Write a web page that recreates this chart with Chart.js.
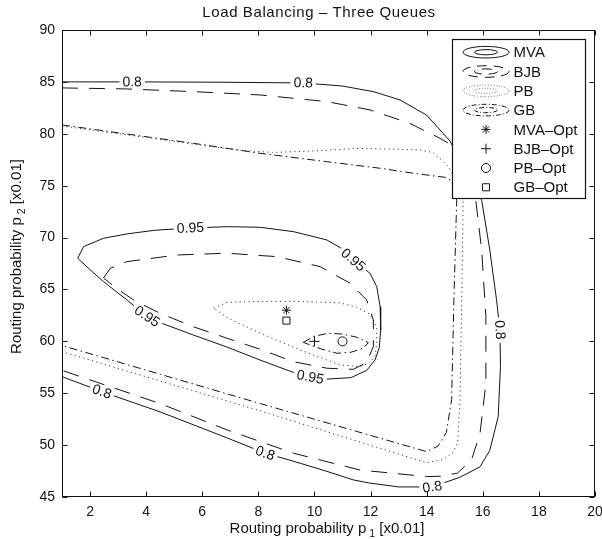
<!DOCTYPE html>
<html>
<head>
<meta charset="utf-8">
<script src="https://cdn.jsdelivr.net/npm/chart.js@4/dist/chart.umd.min.js"></script>
<style>
  html, body { margin: 0; padding: 0; background: #fff; }
  #wrap { width: 602px; height: 539px; }
</style>
</head>
<body>
<div id="wrap"><canvas id="c" width="602" height="539"></canvas></div>
<script>
// ---- text ----
const titleText = 'Load Balancing \u2013 Three Queues';
const xTitle = ['Routing probability p', '1', ' [x0.01]'];
const yTitle = ['Routing probability p', '2', ' [x0.01]'];
const xTickValues = [2, 4, 6, 8, 10, 12, 14, 16, 18, 20];
const yTickValues = [45, 50, 55, 60, 65, 70, 75, 80, 85, 90];
const levels = [0.8, 0.95];
const methods = ['MVA', 'BJB', 'PB', 'GB'];
const optNames = ['MVA\u2013Opt', 'BJB\u2013Opt', 'PB\u2013Opt', 'GB\u2013Opt'];

// ---- contour lines, [p1, p2] pairs ----
const mva80 = [[1,85.0],[3.5,85.0],[6.5,84.97],[9.6,84.9],[11.0,84.6],[12.1,84.06],[13.05,83.26],[14.0,81.8],[14.83,79.3],[15.4,76.4],[15.96,73.6],[16.25,68.8],[16.49,64.0],[16.61,61.1],[16.63,57.6],[16.55,52.75],[16.25,49.5],[15.9,47.9],[15.18,46.9],[14.2,45.97],[13.0,45.97],[11.93,46.36],[11.38,46.65],[10.41,47.5],[9.06,48.6],[8.24,49.22],[6.88,50.7],[4.5,53.2],[2.42,55.15],[1,56.6]];
const mva95 = [[1.56,68.0],[1.77,69.13],[2.48,69.93],[3.31,70.35],[4.3,70.7],[5.58,70.92],[6.9,71.05],[8.06,70.99],[9.25,70.57],[10.44,69.77],[11.0,68.9],[11.38,67.84],[11.98,66.56],[12.22,65.27],[12.34,63.34],[12.36,61.1],[12.31,59.4],[12.16,58.2],[11.86,57.2],[11.3,56.5],[10.44,56.36],[9.85,56.55],[9.25,57.0],[8.06,58.2],[6.88,59.45],[5.69,60.6],[4.6,61.7],[4.03,62.4],[3.31,64.0],[2.48,65.75],[2.0,66.9],[1.56,68.0]];
const bjb80 = [[1,84.42],[3.31,84.32],[5.69,84.06],[8.06,83.74],[10.44,83.1],[11.98,82.3],[13.4,81.0],[14.47,79.57],[14.77,79.1],[15.3,76.4],[15.75,73.6],[15.96,68.8],[16.11,62.4],[16.11,55.96],[15.9,51.1],[15.6,48.6],[15.1,47.3],[14.5,47.0],[13.99,46.97],[11.62,47.6],[9.25,49.22],[6.89,51.46],[4.5,54.0],[1,57.2]];
const bjb95 = [[2.48,66.1],[2.72,67.04],[3.31,67.68],[5.1,68.32],[6.88,68.49],[8.66,68.16],[10.2,67.2],[11.27,65.6],[11.86,63.99],[12.1,62.06],[12.1,59.5],[11.86,57.95],[11.38,57.3],[10.44,57.41],[9.25,58.04],[8.06,59.24],[6.88,60.3],[5.69,61.4],[4.5,62.7],[3.6,63.9],[3.0,65.0],[2.48,66.1]];
const pb80 = [[1,80.75],[3.3,79.9],[5.7,79.0],[7.2,78.45],[8.5,78.2],[10.0,78.35],[11.6,78.6],[12.33,78.55],[13.76,78.45],[14.23,78.18],[14.53,77.48],[14.77,76.83],[15.1,75.3],[15.3,73.6],[15.25,64.0],[15.19,54.4],[15.1,50.2],[14.94,49.3],[14.59,48.6],[13.99,48.3],[8.07,53.3],[1,59.0]];
const pb95 = [[6.41,63.19],[6.88,63.75],[8.06,63.85],[9.5,63.85],[10.91,63.7],[11.5,63.3],[11.98,62.6],[12.22,61.42],[12.22,59.81],[12.16,58.6],[11.95,57.9],[11.62,57.56],[10.91,57.73],[9.49,59.17],[8.07,60.78],[6.88,62.3],[6.41,63.19]];
const gb80 = [[1,80.85],[5.69,79.08],[8.06,78.12],[10.44,77.31],[12.33,76.68],[13.52,76.2],[14.65,75.81],[14.89,75.5],[15.07,73.6],[14.97,64.0],[14.89,54.4],[14.7,51.2],[14.4,49.9],[13.99,49.38],[8.07,54.0],[1,59.6]];
const gb95 = [[9.6,59.9],[10.0,60.5],[10.5,60.78],[11.0,60.7],[11.5,60.4],[11.92,59.88],[11.74,59.33],[11.3,58.95],[10.8,58.85],[10.2,59.3],[9.6,59.9]];

// ---- optimum points ----
const mvaOpt = [[9, 63]];
const bjbOpt = [[10, 60]];
const pbOpt = [[11, 60]];
const gbOpt = [[9, 62]];

// ---- inline level labels (points on the MVA contours) ----
const mvaLabelAt80 = [[3.5,85.0],[9.6,84.9],[16.61,61.1],[14.2,45.97],[8.24,49.22],[2.42,55.15]];
const mvaLabelAt95 = [[5.58,70.92],[11.38,67.84],[9.85,56.55],[4.03,62.4]];

// ---- styling ----
const FONT = '"Liberation Sans", Arial, sans-serif';
const INK = '#141414';
const dashes = { MVA: [], BJB: [16, 11], PB: [1.2, 3.3], GB: [8, 3.5, 1.5, 3.5] };
const lineColor = { MVA: INK, BJB: INK, PB: '#3a3a3a', GB: INK };

const toXY = pts => pts.map(p => ({ x: p[0], y: p[1] }));

function contourSet(method, level, pts) {
  return {
    label: method, kind: 'contour', method, level,
    data: toXY(pts), showLine: true, fill: false, tension: 0,
    borderColor: lineColor[method], borderWidth: 1, borderDash: dashes[method],
    pointRadius: 0, pointHoverRadius: 0
  };
}
function optSet(name, pts, style, radius, bg) {
  return {
    label: name, kind: 'opt', data: toXY(pts), showLine: false,
    pointStyle: style, pointRadius: radius, pointHoverRadius: radius,
    pointBorderColor: INK, pointBackgroundColor: bg, pointBorderWidth: 1
  };
}

const datasets = [
  contourSet('MVA', levels[0], mva80), contourSet('MVA', levels[1], mva95),
  contourSet('BJB', levels[0], bjb80), contourSet('BJB', levels[1], bjb95),
  contourSet('PB', levels[0], pb80),   contourSet('PB', levels[1], pb95),
  contourSet('GB', levels[0], gb80),   contourSet('GB', levels[1], gb95),
  optSet(optNames[0], mvaOpt, 'star', 4.5, 'rgba(0,0,0,0)'),
  optSet(optNames[1], bjbOpt, 'cross', 5, 'rgba(0,0,0,0)'),
  optSet(optNames[2], pbOpt, 'circle', 4.5, '#fff'),
  optSet(optNames[3], gbOpt, 'rect', 5, '#fff')
];

const contourLabels = [
  { series: 0, level: levels[0], at: mvaLabelAt80 },
  { series: 1, level: levels[1], at: mvaLabelAt95 }
];

// ---- drawing helpers ----
function drawMarker(ctx, style, r, x, y, bg) {
  ctx.beginPath();
  if (style === 'circle') {
    ctx.arc(x, y, r, 0, Math.PI * 2);
    ctx.fillStyle = bg; ctx.fill(); ctx.stroke();
  } else if (style === 'rect') {
    const s = r * Math.SQRT1_2;
    ctx.rect(x - s, y - s, 2 * s, 2 * s);
    ctx.fillStyle = bg; ctx.fill(); ctx.stroke();
  } else if (style === 'cross') {
    ctx.moveTo(x - r, y); ctx.lineTo(x + r, y);
    ctx.moveTo(x, y - r); ctx.lineTo(x, y + r);
    ctx.stroke();
  } else {
    const d = r * Math.SQRT1_2;
    ctx.moveTo(x - r, y); ctx.lineTo(x + r, y);
    ctx.moveTo(x, y - r); ctx.lineTo(x, y + r);
    ctx.moveTo(x - d, y - d); ctx.lineTo(x + d, y + d);
    ctx.moveTo(x - d, y + d); ctx.lineTo(x + d, y - d);
    ctx.stroke();
  }
}

function drawContourLabels(chart) {
  const { ctx, scales: { x: xs, y: ys } } = chart;
  ctx.save();
  ctx.font = '14px ' + FONT;
  contourLabels.forEach(spec => {
    const pts = chart.data.datasets[spec.series].data;
    spec.at.forEach(([lx, ly]) => {
      let best = 0, bd = Infinity;
      pts.forEach((p, i) => {
        const d = (p.x - lx) ** 2 + (p.y - ly) ** 2;
        if (d < bd) { bd = d; best = i; }
      });
      const a = pts[Math.max(best - 1, 0)];
      const b = pts[Math.min(best + 1, pts.length - 1)];
      let ang = Math.atan2(ys.getPixelForValue(b.y) - ys.getPixelForValue(a.y),
                           xs.getPixelForValue(b.x) - xs.getPixelForValue(a.x));
      if (ang > Math.PI / 2) ang -= Math.PI;
      if (ang <= -Math.PI / 2) ang += Math.PI;
      const px = xs.getPixelForValue(lx), py = ys.getPixelForValue(ly);
      const txt = String(spec.level);
      const w = ctx.measureText(txt).width;
      ctx.save();
      ctx.translate(px, py);
      ctx.rotate(ang);
      ctx.fillStyle = '#fff';
      ctx.fillRect(-w / 2 - 3, -3.5, w + 6, 7);
      ctx.fillStyle = INK;
      ctx.textAlign = 'center';
      ctx.textBaseline = 'middle';
      ctx.fillText(txt, 0, 0.5);
      ctx.restore();
    });
  });
  ctx.restore();
}

function drawLegend(chart) {
  const { ctx, chartArea: area } = chart;
  const boxW = 133, boxH = 159;
  const left = Math.round(area.right - 10.5 - boxW) + 0.5;
  const top = Math.round(area.top + 9) + 0.5;
  ctx.save();
  ctx.fillStyle = '#fff';
  ctx.fillRect(left, top, boxW, boxH);
  ctx.strokeStyle = INK;
  ctx.lineWidth = 1.2;
  ctx.strokeRect(left, top, boxW, boxH);

  const rowH = 19.3, first = top + 12.7, iconX = left + 33.5, textX = left + 61;
  const sets = chart.data.datasets;
  const entries = [];
  methods.forEach(m => entries.push(sets.find(d => d.kind === 'contour' && d.method === m)));
  sets.filter(d => d.kind === 'opt').forEach(d => entries.push(d));

  ctx.font = '15px ' + FONT;
  ctx.textBaseline = 'middle';
  ctx.textAlign = 'left';
  entries.forEach((d, i) => {
    const cy = first + i * rowH;
    ctx.strokeStyle = d.borderColor || INK;
    ctx.lineWidth = 1;
    if (d.kind === 'contour') {
      ctx.setLineDash(d.borderDash.map(v => v * 0.6));
      ctx.beginPath(); ctx.ellipse(iconX, cy, 23, 5.8, 0, 0, Math.PI * 2); ctx.stroke();
      ctx.beginPath(); ctx.ellipse(iconX, cy, 11.5, 2.6, 0, 0, Math.PI * 2); ctx.stroke();
      ctx.setLineDash([]);
    } else {
      ctx.strokeStyle = INK;
      drawMarker(ctx, d.pointStyle, d.pointRadius, iconX, cy, d.pointBackgroundColor);
    }
    ctx.fillStyle = INK;
    ctx.fillText(d.label, textX, cy + 1);
  });
  ctx.restore();
}

function drawFrame(chart) {
  const { ctx, chartArea: a, scales: { x, y } } = chart;
  const L = Math.round(a.left) + 0.5, R = Math.round(a.right) - 0.5;
  const T = Math.round(a.top) + 0.5, B = Math.round(a.bottom) - 0.5;
  ctx.save();
  ctx.strokeStyle = INK;
  ctx.lineWidth = 1;
  ctx.strokeRect(L, T, R - L, B - T);
  ctx.beginPath();
  x.ticks.forEach(t => {
    const px = Math.round(x.getPixelForValue(t.value)) + 0.5;
    ctx.moveTo(px, B); ctx.lineTo(px, B - 5);
    ctx.moveTo(px, T); ctx.lineTo(px, T + 5);
  });
  y.ticks.forEach(t => {
    const py = Math.round(y.getPixelForValue(t.value)) + 0.5;
    ctx.moveTo(L, py); ctx.lineTo(L + 5, py);
    ctx.moveTo(R, py); ctx.lineTo(R - 5, py);
  });
  ctx.stroke();
  ctx.restore();
}

// label with a lowered subscript, centred at the origin of the current transform
function drawSubscripted(ctx, parts) {
  const main = '15px ' + FONT, sub = '10.5px ' + FONT;
  ctx.font = main; const w1 = ctx.measureText(parts[0]).width;
  ctx.font = sub;  const w2 = ctx.measureText(parts[1]).width;
  ctx.font = main; const w3 = ctx.measureText(parts[2]).width;
  const gap = 3;
  let x0 = -(w1 + gap + w2 + w3) / 2;
  ctx.textAlign = 'left';
  ctx.textBaseline = 'alphabetic';
  ctx.font = main; ctx.fillText(parts[0], x0, 0); x0 += w1 + gap;
  ctx.font = sub;  ctx.fillText(parts[1], x0, 4); x0 += w2;
  ctx.font = main; ctx.fillText(parts[2], x0, 0);
}

function drawTitles(chart) {
  const { ctx, chartArea: a } = chart;
  ctx.save();
  ctx.fillStyle = INK;
  // chart title over the plot
  ctx.font = '15px ' + FONT;
  if ('letterSpacing' in ctx) ctx.letterSpacing = '0.6px';
  ctx.textAlign = 'center';
  ctx.textBaseline = 'middle';
  ctx.fillText(titleText, 319, 13);
  if ('letterSpacing' in ctx) ctx.letterSpacing = '0px';
  // axis titles
  ctx.save();
  ctx.translate((a.left + a.right) / 2 - 1.5, 533);
  drawSubscripted(ctx, xTitle);
  ctx.restore();
  ctx.save();
  ctx.translate(21, (a.top + a.bottom) / 2 - 7);
  ctx.rotate(-Math.PI / 2);
  drawSubscripted(ctx, yTitle);
  ctx.restore();
  ctx.restore();
}

const decorations = {
  id: 'decorations',
  afterDatasetsDraw(chart) {
    drawContourLabels(chart);
    drawLegend(chart);
  },
  afterDraw(chart) {
    drawFrame(chart);
    drawTitles(chart);
  }
};

const tickFont = { family: FONT, size: 14 };

new Chart(document.getElementById('c'), {
  type: 'scatter',
  data: { datasets },
  options: {
    responsive: false,
    animation: false,
    events: [],
    layout: { padding: { top: 30, right: 7, bottom: 0, left: 0 } },
    plugins: {
      legend: { display: false },
      tooltip: { enabled: false },
      title: { display: false }
    },
    scales: {
      x: {
        type: 'linear', min: 1, max: 20,
        afterBuildTicks: s => { s.ticks = xTickValues.map(v => ({ value: v })); },
        afterFit: s => { s.height = 42; s.paddingLeft = 0; s.paddingRight = 0; },
        grid: { display: false, drawTicks: false },
        border: { display: false },
        ticks: { font: tickFont, color: INK, padding: 7, maxRotation: 0, autoSkip: false }
      },
      y: {
        type: 'linear', min: 45, max: 90,
        afterBuildTicks: s => { s.ticks = yTickValues.map(v => ({ value: v })); },
        afterFit: s => { s.width = 62; s.paddingTop = 0; s.paddingBottom = 0; },
        grid: { display: false, drawTicks: false },
        border: { display: false },
        ticks: { font: tickFont, color: INK, padding: 7, autoSkip: false }
      }
    }
  },
  plugins: [decorations]
});
</script>
</body>
</html>
